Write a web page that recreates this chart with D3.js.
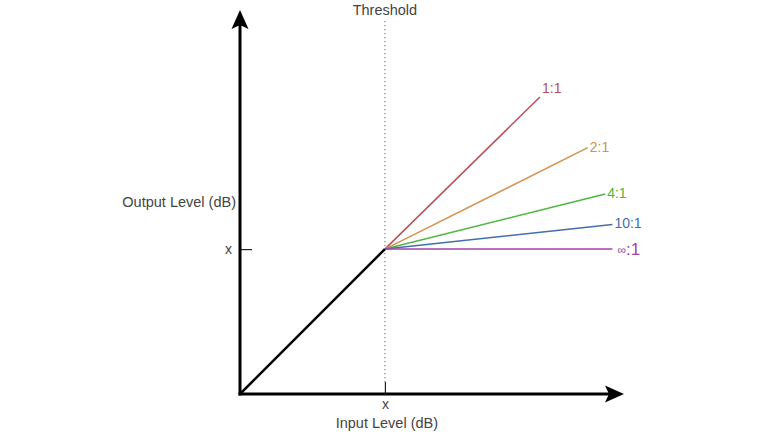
<!DOCTYPE html>
<html>
<head>
<meta charset="utf-8">
<script src="https://cdn.jsdelivr.net/npm/d3@7"></script>
<style>
  html, body { margin: 0; padding: 0; background: #ffffff; }
  svg { display: block; font-family: "Liberation Sans", Arial, Helvetica, sans-serif; }
</style>
</head>
<body>
<svg id="chart" width="768" height="432"></svg>
<script>
// ---- data ----
const threshold = 1.0;                       // threshold level (input = output)
const ratios = ["1:1", "2:1", "4:1", "10:1", "∞:1"];
const endInput = [2.07, 2.40, 2.52, 2.57, 2.57];
const endOutput = [2.05, 1.70, 1.38, 1.17, 1.00];
const ratioColors = ["#b4505a", "#d3924f", "#4fb443", "#416fa8", "#a243a4"];
const xTickLabels = ["x"];
const yTickLabels = ["x"];
const axisMax = 2.65;

// ---- layout ----
const svg = d3.select("#chart");
const x = d3.scaleLinear().domain([0, axisMax]).range([240, 624]);
const y = d3.scaleLinear().domain([0, axisMax]).range([394, 10]);
const textColor = "#444";
const titleSize = 14.5;

// threshold dotted line
svg.append("line")
  .attr("x1", x(threshold)).attr("x2", x(threshold))
  .attr("y1", 21).attr("y2", y(0) - 12)
  .attr("stroke", "#999").attr("stroke-width", 1.5)
  .attr("stroke-dasharray", "1.3,2.7");

svg.append("text")
  .attr("x", x(threshold)).attr("y", 15)
  .attr("text-anchor", "middle")
  .attr("font-size", titleSize).attr("fill", textColor)
  .text("Threshold");

// axes (ticks only) via d3 axis generators
const xAxis = d3.axisBottom(x).tickValues([threshold])
  .tickFormat((d, i) => xTickLabels[i]).tickSizeInner(-12).tickSizeOuter(0).tickPadding(5);
const gx = svg.append("g").attr("transform", `translate(0,${y(0)})`).call(xAxis);
gx.select(".domain").remove();
gx.selectAll(".tick line").attr("stroke", "#222").attr("stroke-width", 1.2);
gx.selectAll(".tick text").attr("font-size", 14).attr("fill", textColor)
  .attr("font-family", "Liberation Sans, Arial, sans-serif");

const yAxis = d3.axisLeft(y).tickValues([threshold])
  .tickFormat((d, i) => yTickLabels[i]).tickSizeInner(-12).tickSizeOuter(0).tickPadding(8);
const gy = svg.append("g").attr("transform", `translate(${x(0)},0)`).call(yAxis);
gy.select(".domain").remove();
gy.selectAll(".tick line").attr("stroke", "#222").attr("stroke-width", 1.2);
gy.selectAll(".tick text").attr("font-size", 14).attr("fill", textColor)
  .attr("font-family", "Liberation Sans, Arial, sans-serif");

// axis lines with arrowheads
const x0 = x(0), y0 = y(0), xEnd = x(axisMax), yEnd = y(axisMax);
svg.append("line").attr("x1", x0).attr("y1", y0 + 1.5).attr("x2", x0).attr("y2", yEnd + 14)
  .attr("stroke", "#000").attr("stroke-width", 3);
svg.append("path")
  .attr("d", `M${x0},${yEnd} L${x0 + 8.5},${yEnd + 19} L${x0},${yEnd + 15} L${x0 - 8.5},${yEnd + 19} Z`)
  .attr("fill", "#000");
svg.append("line").attr("x1", x0 - 1.5).attr("y1", y0).attr("x2", xEnd - 14).attr("y2", y0)
  .attr("stroke", "#000").attr("stroke-width", 3);
svg.append("path")
  .attr("d", `M${xEnd},${y0} L${xEnd - 19},${y0 - 8.5} L${xEnd - 15},${y0} L${xEnd - 19},${y0 + 8.5} Z`)
  .attr("fill", "#000");

// axis titles
svg.append("text")
  .attr("x", x0 - 4).attr("y", 207)
  .attr("text-anchor", "end").attr("font-size", titleSize).attr("fill", textColor)
  .text("Output Level (dB)");
svg.append("text")
  .attr("x", x(threshold) + 2).attr("y", 427.5)
  .attr("text-anchor", "middle").attr("font-size", titleSize).attr("fill", textColor)
  .text("Input Level (dB)");

// ratio lines
const lineGen = d3.line().x(d => x(d[0])).y(d => y(d[1]));
ratios.forEach((r, i) => {
  svg.append("path")
    .attr("d", lineGen([[threshold, threshold], [endInput[i], endOutput[i]]]))
    .attr("fill", "none").attr("stroke", ratioColors[i]).attr("stroke-width", 1.5);
});

// below-threshold 1:1 black segment
svg.append("path")
  .attr("d", lineGen([[0, 0], [threshold, threshold]]))
  .attr("fill", "none").attr("stroke", "#000").attr("stroke-width", 2.5);

// ratio labels
ratios.forEach((r, i) => {
  const lx = x(endInput[i]) + 2;
  const ly = y(endOutput[i]) + (i === 0 ? -4 : 4);
  const t = svg.append("text")
    .attr("x", lx).attr("y", ly)
    .attr("font-size", 14).attr("fill", ratioColors[i]);
  if (r.startsWith("∞")) {
    t.attr("x", lx + 3).attr("y", ly + 2);
    t.append("tspan").attr("font-size", 12).attr("dy", -1).text("∞");
    t.append("tspan").attr("font-size", 17).attr("dy", 1).text(":1");
  } else {
    t.text(r);
  }
});
</script>
</body>
</html>
